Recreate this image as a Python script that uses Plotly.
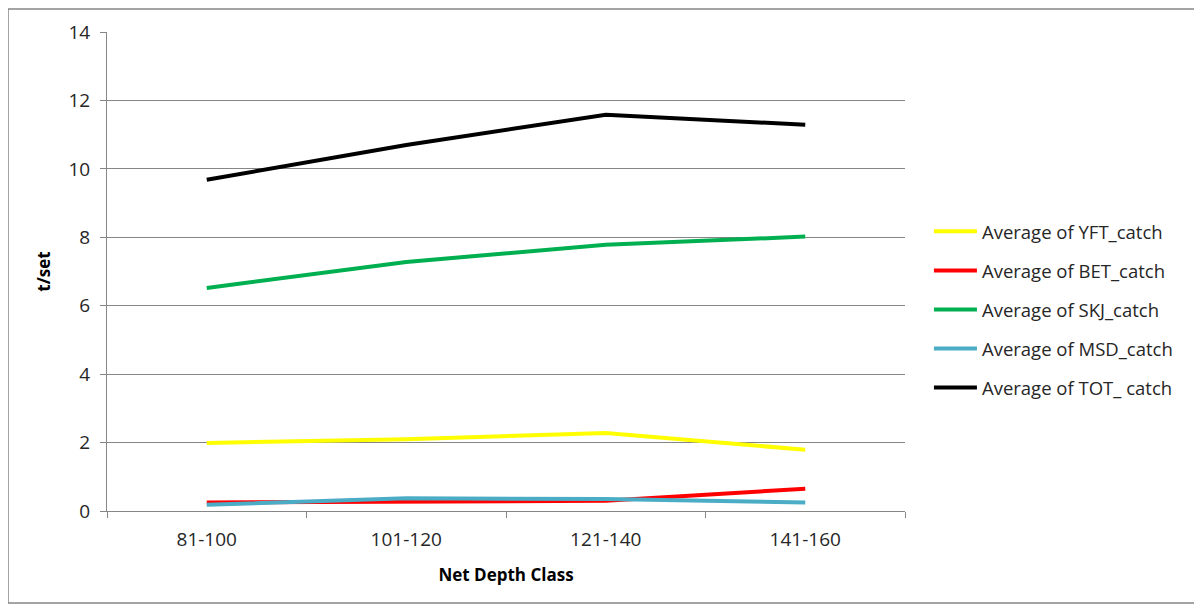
import plotly.graph_objects as go

categories = ["81-100", "101-120", "121-140", "141-160"]
yft = [1.99, 2.10, 2.28, 1.79]
bet = [0.25, 0.28, 0.30, 0.65]
skj = [6.52, 7.28, 7.78, 8.02]
msd = [0.18, 0.37, 0.35, 0.25]
tot = [9.68, 10.70, 11.58, 11.29]

series_names = ["Average of YFT_catch", "Average of BET_catch", "Average of SKJ_catch",
                "Average of MSD_catch", "Average of TOT_ catch"]
series_values = [yft, bet, skj, msd, tot]
series_colors = ["#FFFF00", "#FF0000", "#00B050", "#4BACC6", "#000000"]

FONT = "Open Sans"
TXT = "#262626"

W, H = 1194, 599
ML, MT = 99, 24
PW, PH = 798, 479

fig = go.Figure()
for name, vals, col in zip(series_names, series_values, series_colors):
    fig.add_trace(go.Scatter(x=categories, y=vals, name=name, mode="lines",
                             line=dict(color=col, width=4), legendgroup=name))

fig.update_layout(
    width=W, height=H,
    margin=dict(l=ML, r=W - ML - PW, t=MT, b=H - MT - PH, pad=0),
    paper_bgcolor="white", plot_bgcolor="white",
    font=dict(family=FONT, size=18, color=TXT),
    showlegend=True,
    legend=dict(x=1.03, xanchor="left", y=0.42, yanchor="middle",
                font=dict(family=FONT, size=18.5, color=TXT),
                tracegroupgap=12, itemwidth=43, bgcolor="rgba(0,0,0,0)"),
    xaxis=dict(type="category", range=[-0.5, 3.5], showgrid=False,
               showline=True, linecolor="#868686", linewidth=1,
               ticks="outside", tickson="boundaries", ticklen=6, tickcolor="#868686",
               ticklabelstandoff=11,
               tickfont=dict(size=19, color=TXT),
               title=dict(text="<b>Net Depth Class</b>", font=dict(size=17, color="#000000"), standoff=18)),
    yaxis=dict(range=[0, 14], dtick=2, showgrid=True, gridcolor="#868686", gridwidth=1,
               showline=True, linecolor="#868686", linewidth=1, zeroline=False,
               ticks="outside", ticklen=6, tickcolor="#868686",
               ticklabelstandoff=6,
               tickfont=dict(size=19, color=TXT),
               title=dict(text="<b>t/set</b>", font=dict(size=17, color="#000000"), standoff=13)),
)

fig.add_shape(type="rect", xref="paper", yref="paper",
              x0=(0 - ML) / PW, x1=(1188 - ML) / PW,
              y0=(MT + PH - 595) / PH, y1=(MT + PH - 1) / PH,
              line=dict(color="#868686", width=1.5), fillcolor="rgba(0,0,0,0)", layer="below")

fig.write_html("out.html")
